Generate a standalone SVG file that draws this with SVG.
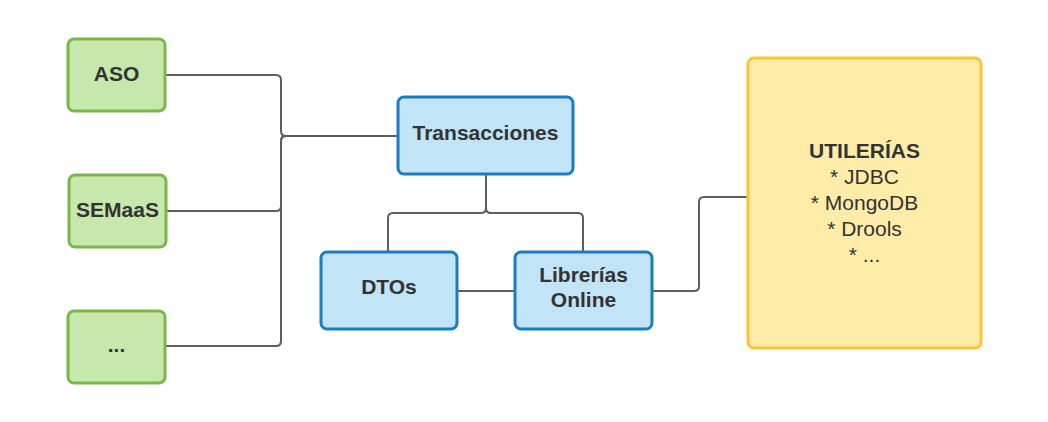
<svg xmlns="http://www.w3.org/2000/svg" width="1048" height="422" viewBox="0 0 1048 422">
<style>
.g rect{fill:#c7e8ac;stroke:#7ab648;stroke-width:3}
.b rect{fill:#c1e4f7;stroke:#1a7dc0;stroke-width:3}
.y rect{fill:#ffeca9;stroke:#fcc438;stroke-width:3}
text{font-family:"Liberation Sans",Arial,sans-serif;font-size:21px;fill:#333;text-anchor:middle}
.bd{font-weight:bold}
#connectors path{fill:none;stroke:#5e5e5e;stroke-width:2}
</style>
<rect width="1048" height="422" fill="#fff"/>
<g id="connectors">
<path d="M166,75 H276 Q281,75 281,80 V131 Q281,136 286,136 H397"/>
<path d="M167,211 H276 Q281,211 281,206 V141 Q281,136 286,136 H397"/>
<path d="M166,346 H276 Q281,346 281,341 V141 Q281,136 286,136 H397"/>
<path d="M486,175 V208 Q486,213 481,213 H393 Q388,213 388,218 V252"/>
<path d="M486,175 V208 Q486,213 491,213 H578 Q583,213 583,218 V252"/>
<path d="M457,291 H514"/>
<path d="M652,291 H694 Q699,291 699,286 V202 Q699,197 704,197 H747"/>
</g>
<g id="aso" class="g"><rect x="68" y="39" width="97" height="72" rx="6"/><text x="116.5" y="81" class="bd">ASO</text></g>
<g id="semaas" class="g"><rect x="69" y="175" width="97" height="72" rx="6"/><text x="117.5" y="217" class="bd">SEMaaS</text></g>
<g id="otros" class="g"><rect x="68" y="311" width="97" height="72" rx="6"/><text x="116.5" y="352" class="bd">...</text></g>
<g id="transacciones" class="b"><rect x="398" y="97" width="175" height="77" rx="6"/><text x="485.5" y="140" class="bd">Transacciones</text></g>
<g id="dtos" class="b"><rect x="321" y="252" width="136" height="77" rx="6"/><text x="389" y="294" class="bd">DTOs</text></g>
<g id="librerias" class="b"><rect x="515" y="252" width="137" height="77" rx="6"/><text x="583.5" y="282" class="bd">Librerías</text><text x="583.5" y="307" class="bd">Online</text></g>
<g id="utilerias" class="y"><rect x="748" y="58" width="233" height="290" rx="6"/>
<text x="864.5" y="158" class="bd">UTILERÍAS</text>
<text x="864.5" y="184">* JDBC</text>
<text x="864.5" y="210">* MongoDB</text>
<text x="864.5" y="236">* Drools</text>
<text x="864.5" y="262">* ...</text>
</g>
</svg>
